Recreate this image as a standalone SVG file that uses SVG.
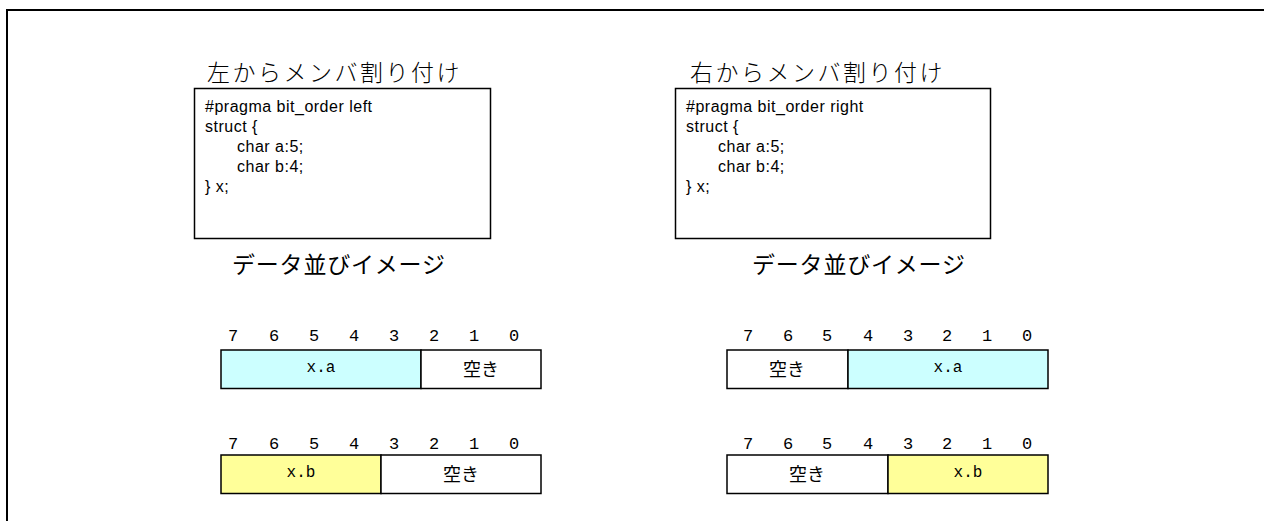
<svg xmlns="http://www.w3.org/2000/svg" width="1264" height="521" viewBox="0 0 1264 521">
<style>
.frame{fill:none;stroke:#000;stroke-width:2}
.box{fill:#fff;stroke:#000;stroke-width:1.5}
.cy{fill:#CCFFFF;stroke:#000;stroke-width:1.5}
.ye{fill:#FFFF99;stroke:#000;stroke-width:1.5}
.title{font-family:"Noto Sans CJK JP",sans-serif;font-size:23px;font-weight:300;letter-spacing:2.5px;fill:#000}
.code{font-family:"Liberation Sans",Arial,sans-serif;font-size:16px;letter-spacing:0.5px;fill:#000}
.sub{font-family:"Noto Sans CJK JP",sans-serif;font-size:23px;font-weight:400;letter-spacing:0.8px;fill:#000}
.num{font-family:"Liberation Mono","Courier New",monospace;font-size:17px;fill:#000;text-anchor:middle}
.mono{font-family:"Liberation Mono","Courier New",monospace;font-size:16px;fill:#000;text-anchor:middle}
.jp{font-family:"Noto Sans CJK JP",sans-serif;font-size:18px;fill:#000;text-anchor:middle}
</style>
<rect width="1264" height="521" fill="#fff"/>
<path class="frame" d="M7,521 V10 H1264"/>

<g id="left-panel">
<text class="title" x="207" y="81">左からメンバ割り付け</text>
<rect class="box" x="194.5" y="88.5" width="296" height="150"/>
<text class="code" x="205" y="112">#pragma bit_order left</text>
<text class="code" x="205" y="132">struct {</text>
<text class="code" x="237" y="152">char a:5;</text>
<text class="code" x="237" y="172">char b:4;</text>
<text class="code" x="205" y="192">} x;</text>
<text class="sub" x="232" y="273">データ並びイメージ</text>
</g>

<g id="right-panel">
<text class="title" x="690" y="81">右からメンバ割り付け</text>
<rect class="box" x="675.5" y="88.5" width="315" height="150"/>
<text class="code" x="686" y="112">#pragma bit_order right</text>
<text class="code" x="686" y="132">struct {</text>
<text class="code" x="718" y="152">char a:5;</text>
<text class="code" x="718" y="172">char b:4;</text>
<text class="code" x="686" y="192">} x;</text>
<text class="sub" x="752" y="273">データ並びイメージ</text>
</g>

<g id="left-row-a">
<g class="num">
<text x="233" y="341">7</text><text x="274" y="341">6</text><text x="314" y="341">5</text><text x="354" y="341">4</text><text x="394" y="341">3</text><text x="434" y="341">2</text><text x="474" y="341">1</text><text x="514" y="341">0</text>
</g>
<rect class="cy" x="221" y="350" width="200" height="38.5"/>
<rect class="box" x="421" y="350" width="120" height="38.5"/>
<text class="mono" x="321" y="372">x.a</text>
<text class="jp" x="481" y="376">空き</text>
</g>

<g id="left-row-b">
<g class="num">
<text x="233" y="449">7</text><text x="274" y="449">6</text><text x="314" y="449">5</text><text x="354" y="449">4</text><text x="394" y="449">3</text><text x="434" y="449">2</text><text x="474" y="449">1</text><text x="514" y="449">0</text>
</g>
<rect class="ye" x="221" y="455" width="160" height="38.5"/>
<rect class="box" x="381" y="455" width="160" height="38.5"/>
<text class="mono" x="301" y="477">x.b</text>
<text class="jp" x="461" y="481">空き</text>
</g>

<g id="right-row-a">
<g class="num">
<text x="748" y="341">7</text><text x="788" y="341">6</text><text x="827" y="341">5</text><text x="868" y="341">4</text><text x="908" y="341">3</text><text x="947" y="341">2</text><text x="987" y="341">1</text><text x="1027" y="341">0</text>
</g>
<rect class="box" x="727" y="350" width="121" height="38.5"/>
<rect class="cy" x="848" y="350" width="200" height="38.5"/>
<text class="jp" x="787" y="376">空き</text>
<text class="mono" x="948" y="372">x.a</text>
</g>

<g id="right-row-b">
<g class="num">
<text x="748" y="449">7</text><text x="788" y="449">6</text><text x="827" y="449">5</text><text x="868" y="449">4</text><text x="908" y="449">3</text><text x="947" y="449">2</text><text x="987" y="449">1</text><text x="1027" y="449">0</text>
</g>
<rect class="box" x="727" y="455" width="161" height="38.5"/>
<rect class="ye" x="888" y="455" width="160" height="38.5"/>
<text class="jp" x="807" y="481">空き</text>
<text class="mono" x="968" y="477">x.b</text>
</g>

<g id="connectors"></g>
</svg>
